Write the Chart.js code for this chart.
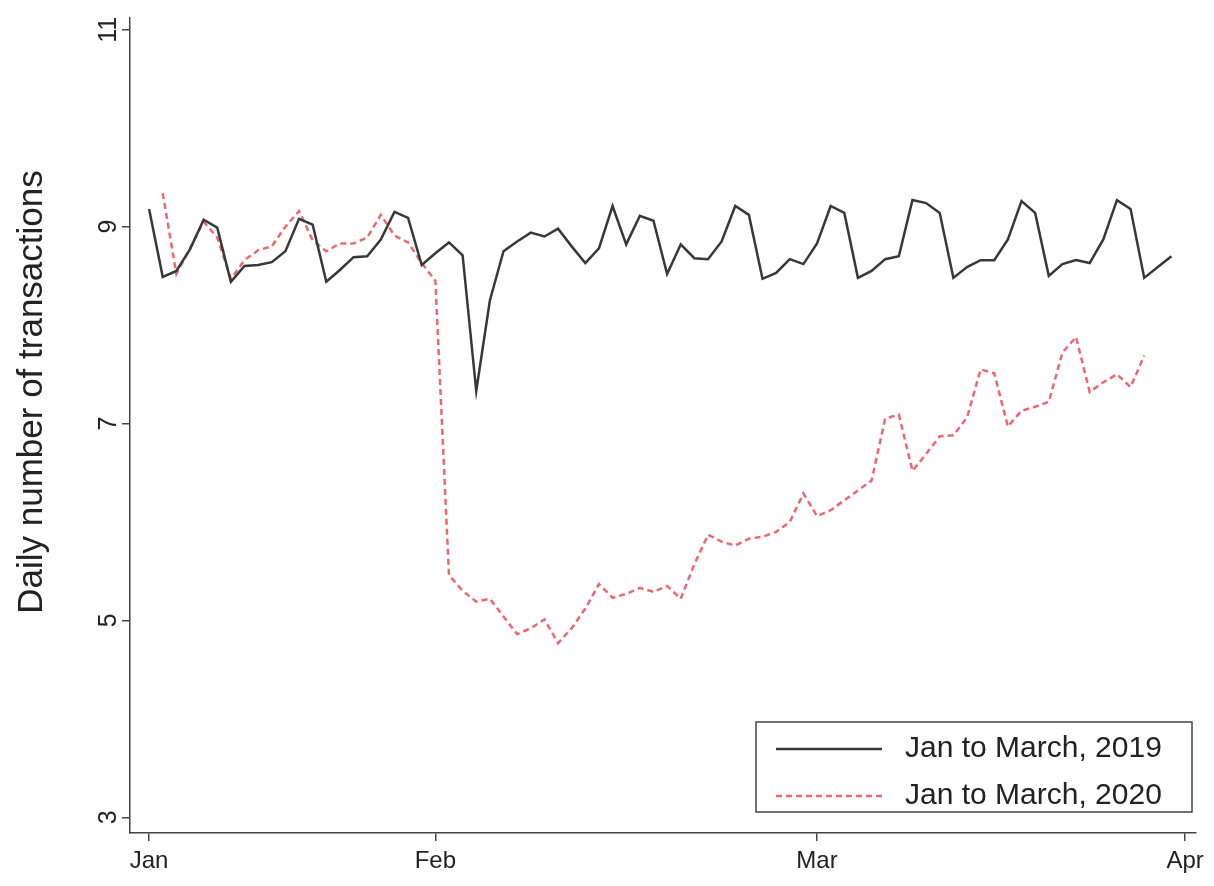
<!DOCTYPE html>
<html><head><meta charset="utf-8">
<script src="https://cdn.jsdelivr.net/npm/chart.js@4.4.1/dist/chart.umd.min.js"></script>
<style>html,body{margin:0;padding:0;background:#fff}#wrap{width:1214px;height:886px}</style>
</head><body><div id="wrap"><canvas id="c" width="1214" height="886"></canvas></div>
<script>
// Daily number of transactions, 2019 (day index 0..75)
const tx2019 = [9.18,8.49,8.55,8.77,9.07,8.99,8.44,8.60,8.61,8.64,8.75,9.08,9.02,8.44,8.56,8.69,8.70,8.87,9.15,9.09,
  8.61,8.73,8.84,8.71,7.33,8.25,8.75,8.85,8.94,8.90,8.98,8.80,8.63,8.78,9.21,8.82,9.11,9.06,8.52,8.82,
  8.68,8.67,8.85,9.21,9.12,8.47,8.53,8.67,8.62,8.83,9.21,9.14,8.48,8.55,8.67,8.70,9.27,9.24,9.14,8.48,
  8.59,8.66,8.66,8.87,9.26,9.14,8.50,8.62,8.66,8.63,8.87,9.27,9.18,8.48,8.59,8.70];
// Daily number of transactions, 2020 (starts at day index 1)
const start2020 = 1;
const tx2020 = [9.34,8.52,8.78,9.05,8.89,8.47,8.66,8.76,8.80,9.00,9.16,8.86,8.75,8.83,8.83,8.89,9.12,8.91,8.84,8.63,
  8.45,5.46,5.30,5.19,5.22,5.04,4.86,4.92,5.01,4.77,4.92,5.12,5.37,5.23,5.27,5.33,5.29,5.35,5.22,5.57,
  5.87,5.80,5.76,5.83,5.85,5.90,6.00,6.29,6.06,6.12,6.22,6.32,6.42,7.05,7.09,6.52,6.69,6.87,6.88,7.06,
  7.55,7.51,6.97,7.13,7.17,7.22,7.72,7.88,7.32,7.42,7.50,7.37,7.69];
const xTickPos = [0, 21, 49, 76];
const xTickLabels = ['Jan', 'Feb', 'Mar', 'Apr'];
const yTicks = [3, 5, 7, 9, 11];
const seriesLabels = ['Jan to March, 2019', 'Jan to March, 2020'];
const yTitle = 'Daily number of transactions';

const FONT = '"Liberation Sans", Arial, sans-serif';
const AXIS = '#444';
const TEXT = '#222';

const textPlugin = {
  id: 'stataText',
  afterDraw(chart) {
    const ctx = chart.ctx;
    ctx.save();
    // y axis title
    ctx.fillStyle = TEXT;
    ctx.font = '35px ' + FONT;
    ctx.textAlign = 'center';
    ctx.textBaseline = 'middle';
    ctx.save();
    ctx.translate(32, 392);
    ctx.rotate(-Math.PI / 2);
    ctx.fillText(yTitle, 0, 0);
    ctx.restore();
    // y tick labels (rotated, as in the original)
    const ys = chart.scales.y;
    ctx.font = '25px ' + FONT;
    ys.ticks.forEach(t => {
      const py = ys.getPixelForValue(t.value);
      ctx.save();
      ctx.translate(109, py);
      ctx.rotate(-Math.PI / 2);
      ctx.fillText(String(t.value), 0, 0);
      ctx.restore();
    });
    // legend box
    const bx = 756, by = 722, bw = 436, bh = 90;
    ctx.fillStyle = '#fff';
    ctx.fillRect(bx, by, bw, bh);
    ctx.strokeStyle = AXIS;
    ctx.lineWidth = 1.5;
    ctx.strokeRect(bx, by, bw, bh);
    chart.data.datasets.forEach((ds, i) => {
      const cy = by + 27 + i * 47;
      ctx.beginPath();
      ctx.strokeStyle = ds.borderColor;
      ctx.lineWidth = ds.borderWidth;
      ctx.setLineDash(ds.borderDash || []);
      ctx.moveTo(776, cy);
      ctx.lineTo(882, cy);
      ctx.stroke();
      ctx.setLineDash([]);
      ctx.fillStyle = TEXT;
      ctx.font = '30px ' + FONT;
      ctx.textAlign = 'left';
      ctx.textBaseline = 'middle';
      ctx.fillText(ds.label, 905, cy);
    });
    ctx.restore();
  }
};

new Chart(document.getElementById('c'), {
  type: 'line',
  data: {
    datasets: [
      {
        label: seriesLabels[0],
        data: tx2019.map((v, i) => ({x: i, y: v})),
        borderColor: '#383838',
        borderWidth: 2.5,
        pointRadius: 0,
        tension: 0,
        fill: false
      },
      {
        label: seriesLabels[1],
        data: tx2020.map((v, i) => ({x: i + start2020, y: v})),
        borderColor: '#f0666f',
        borderWidth: 2.5,
        borderDash: [6, 4],
        pointRadius: 0,
        tension: 0,
        fill: false
      }
    ]
  },
  options: {
    responsive: false,
    animation: false,
    devicePixelRatio: 1,
    layout: {padding: {left: 0, top: 18, right: 18, bottom: 0}},
    plugins: {legend: {display: false}, tooltip: {enabled: false}},
    scales: {
      x: {
        type: 'linear',
        min: -1.4,
        max: 76.8,
        afterBuildTicks: s => { s.ticks = xTickPos.map(v => ({value: v})); },
        afterFit: s => { s.height = 53; },
        ticks: {
          callback: (v, i) => xTickLabels[i],
          autoSkip: false, maxRotation: 0, minRotation: 0,
          font: {family: FONT, size: 24}, color: TEXT, padding: 6
        },
        grid: {display: true, drawOnChartArea: false, drawTicks: true, tickLength: 8, color: AXIS, lineWidth: 1.5},
        border: {display: true, color: AXIS, width: 1.5}
      },
      y: {
        type: 'linear',
        min: 2.84,
        max: 11.12,
        afterBuildTicks: s => { s.ticks = yTicks.map(v => ({value: v})); },
        afterFit: s => { s.width = 130; },
        ticks: {display: false},
        grid: {display: true, drawOnChartArea: false, drawTicks: true, tickLength: 8, color: AXIS, lineWidth: 1.5},
        border: {display: true, color: AXIS, width: 1.5}
      }
    }
  },
  plugins: [textPlugin]
});
</script></body></html>
